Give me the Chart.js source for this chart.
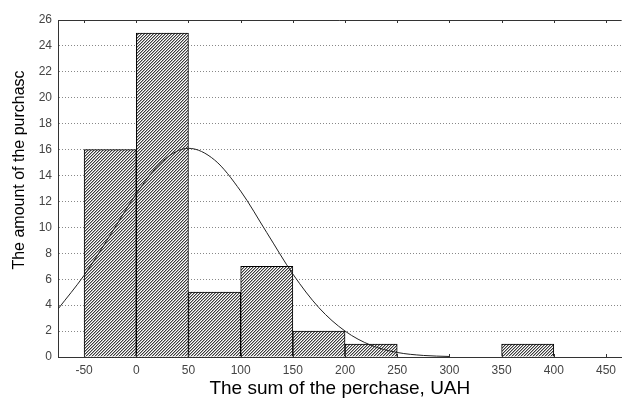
<!DOCTYPE html>
<html>
<head>
<meta charset="utf-8">
<script src="https://cdn.jsdelivr.net/npm/chart.js@4.4.0/dist/chart.umd.min.js"></script>
<style>
    html, body { margin: 0; padding: 0; background: #fff; }
    #wrap { width: 622px; height: 401px; }
</style>
</head>
<body>
<div id="wrap"><canvas id="histChart"></canvas></div>
<script>
// histogram bins (centers) and counts
const binCenters = [-25, 25, 75, 125, 175, 225, 375];
const binCounts = [16, 25, 5, 7, 2, 1, 1];

// fitted curve
const curveX = [-75, -50, -25, 0, 25, 50, 75, 100, 125, 150, 175, 200, 225, 250, 275, 300];
const curveY = [3.7, 6.3, 9.4, 12.6, 15.1, 16.1, 15.2, 12.8, 9.6, 6.4, 3.8, 2.0, 0.9, 0.35, 0.12, 0.04];

const xTicks = [-50, 0, 50, 100, 150, 200, 250, 300, 350, 400, 450];
const yTicks = [0, 2, 4, 6, 8, 10, 12, 14, 16, 18, 20, 22, 24, 26];

const yTitle = "The amount of the purchasc";

// hatch pattern /// (3px period, soft edge like the scan)
function makeHatch() {
    const c = document.createElement("canvas");
    c.width = 3;
    c.height = 3;
    const ctx = c.getContext("2d");
    const img = ctx.createImageData(3, 3);
    const shades = [60, 170, 255];
    for (let y = 0; y < 3; y++) {
        for (let x = 0; x < 3; x++) {
            const i = (y * 3 + x) * 4;
            const v = shades[(x + y) % 3];
            img.data[i] = v;
            img.data[i + 1] = v;
            img.data[i + 2] = v;
            img.data[i + 3] = 255;
        }
    }
    ctx.putImageData(img, 0, 0);
    return ctx.createPattern(c, "repeat");
}

const frameLines = {
    id: "frameLines",
    afterDraw(chart) {
        const ctx = chart.ctx;
        const a = chart.chartArea;
        const xs = chart.scales.x;
        ctx.save();
        ctx.strokeStyle = "#333";
        ctx.lineWidth = 1;
        ctx.beginPath();
        ctx.moveTo(a.left, a.top + 0.5);
        ctx.lineTo(a.right, a.top + 0.5);
        xTicks.forEach((v) => {
            const px = Math.round(xs.getPixelForValue(v)) + 0.5;
            ctx.moveTo(px, a.top);
            ctx.lineTo(px, a.top + 3);
            ctx.moveTo(px, a.bottom);
            ctx.lineTo(px, a.bottom - 3);
        });
        ctx.stroke();

        // y axis title
        ctx.translate(20, 170);
        ctx.rotate(-Math.PI / 2);
        ctx.fillStyle = "#000";
        ctx.font = "16px 'Liberation Sans'";
        ctx.textAlign = "center";
        ctx.textBaseline = "middle";
        ctx.fillText(yTitle, 0, 0);
        ctx.restore();
    },
};

const histChart = document.getElementById("histChart");

const histConfig = {
    type: "bar",
    data: {
        datasets: [
            {
                type: "line",
                data: curveX.map((x, i) => ({ x: x, y: curveY[i] })),
                borderColor: "#222",
                borderWidth: 1,
                pointRadius: 0,
                tension: 0.4,
                cubicInterpolationMode: "monotone",
                fill: false,
                order: 0,
            },
            {
                type: "bar",
                data: binCenters.map((x, i) => ({ x: x, y: binCounts[i] })),
                backgroundColor: makeHatch(),
                borderColor: "#000",
                borderWidth: 1,
                borderSkipped: "bottom",
                barPercentage: 1,
                categoryPercentage: 1,
                order: 1,
            },
        ],
    },
    options: {
        responsive: true,
        maintainAspectRatio: false,
        animation: false,
        devicePixelRatio: 1,
        layout: { padding: { top: 20, right: 0, left: 0, bottom: 1 } },
        plugins: {
            legend: { display: false },
            tooltip: { enabled: false },
        },
        scales: {
            x: {
                type: "linear",
                min: -75,
                max: 465,
                offset: false,
                afterBuildTicks: (s) => {
                    s.ticks = xTicks.map((v) => ({ value: v }));
                },
                afterFit: (s) => {
                    s.height = 43;
                },
                grid: { display: false, drawTicks: false },
                border: { display: true, color: "#333", width: 1 },
                ticks: {
                    color: "#444",
                    padding: 6,
                    maxRotation: 0,
                    font: { family: "Liberation Sans", size: 12 },
                },
                title: {
                    display: true,
                    text: "The sum of the perchase, UAH",
                    color: "#000",
                    padding: { top: 0, bottom: 0 },
                    font: { family: "Liberation Sans", size: 19 },
                },
            },
            y: {
                min: 0,
                max: 26,
                afterBuildTicks: (s) => {
                    s.ticks = yTicks.map((v) => ({ value: v }));
                },
                afterFit: (s) => {
                    s.width = 58;
                },
                grid: {
                    color: (c) => (c.tick.value === 0 || c.tick.value === 26 ? "rgba(0,0,0,0)" : "#888"),
                    lineWidth: 1,
                    drawTicks: false,
                },
                border: { display: true, color: "#333", width: 1, dash: [1, 2] },
                ticks: {
                    color: "#444",
                    padding: 6,
                    font: { family: "Liberation Sans", size: 12 },
                },
            },
        },
    },
    plugins: [frameLines],
};

const profitHistChart = new Chart(histChart, histConfig);
</script>
</body>
</html>
